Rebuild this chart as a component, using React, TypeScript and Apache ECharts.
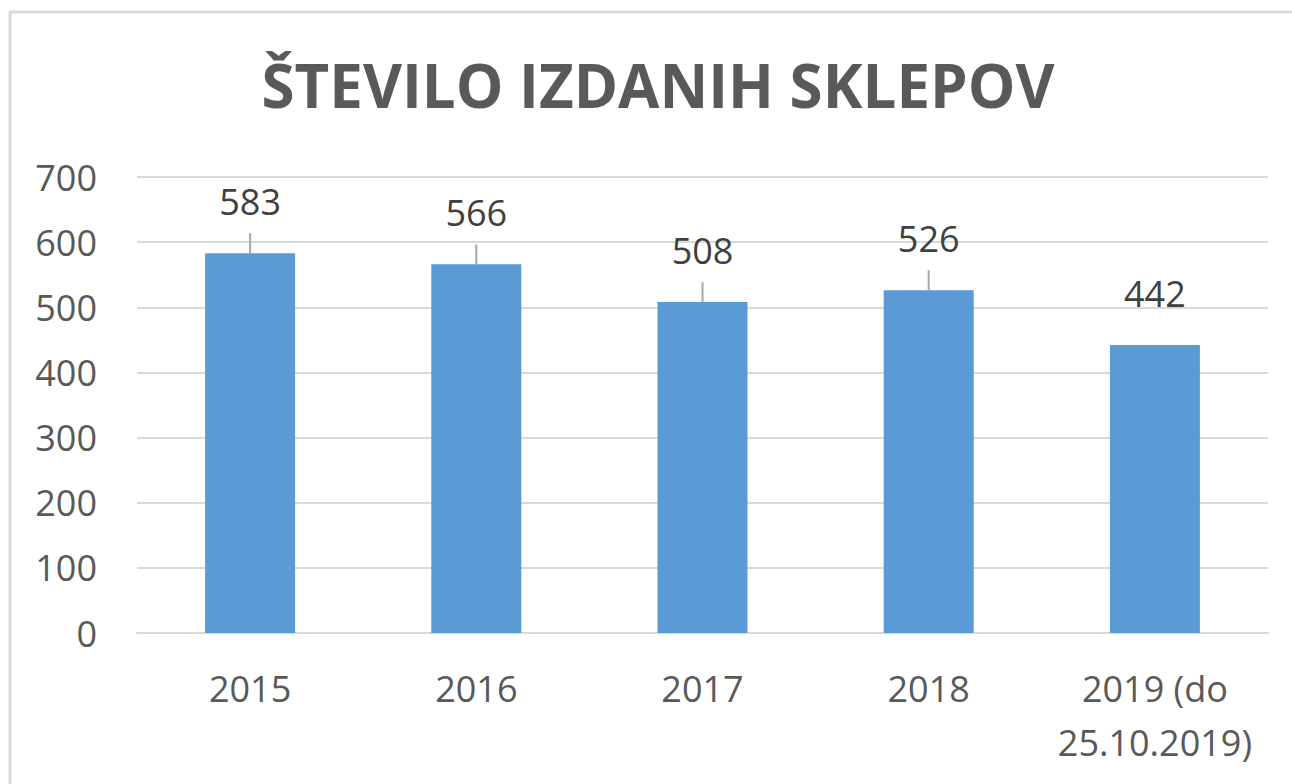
import React, { useEffect, useRef } from "react";
import * as echarts from "echarts";

const TITLE = "ŠTEVILO IZDANIH SKLEPOV";
const categories = ["2015", "2016", "2017", "2018", "2019 (do\n25.10.2019)"];
const values = [583, 566, 508, 526, 442];
const showLeader = [true, true, true, true, false];
const yTicks = { min: 0, max: 700, interval: 100 };

export default function App() {
  const ref = useRef<HTMLDivElement>(null);
  useEffect(() => {
    const chart = echarts.init(ref.current!, null, { renderer: "svg" });
    const font = "'Open Sans', sans-serif";
    chart.setOption({
      animation: false,
      backgroundColor: "#ffffff",
      graphic: [
        { type: "line", shape: { x1: 10, y1: 12, x2: 10, y2: 784 }, style: { stroke: "#d9d9d9", lineWidth: 3 } },
        { type: "line", shape: { x1: 9, y1: 12, x2: 1292, y2: 12 }, style: { stroke: "#d9d9d9", lineWidth: 3 } },
        {
          type: "text",
          x: 658,
          y: 85,
          style: {
            text: TITLE,
            font: `bold 60px ${font}`,
            fill: "#595959",
            textAlign: "center",
            textVerticalAlign: "middle",
          },
        },
      ],
      grid: { left: 137, right: 24, top: 177, bottom: 151 },
      xAxis: {
        type: "category",
        data: categories,
        axisLine: { lineStyle: { color: "#d9d9d9", width: 2 } },
        axisTick: { show: false },
        axisLabel: {
          color: "#595959",
          fontFamily: font,
          fontSize: 36,
          lineHeight: 54,
          margin: 28,
          interval: 0,
        },
      },
      yAxis: {
        type: "value",
        min: yTicks.min,
        max: yTicks.max,
        interval: yTicks.interval,
        axisLine: { show: false },
        axisTick: { show: false },
        splitLine: { lineStyle: { color: "#d9d9d9", width: 2 } },
        axisLabel: {
          color: "#595959",
          fontFamily: font,
          fontSize: 36,
          margin: 40,
        },
      },
      series: [
        {
          type: "bar",
          barWidth: 90,
          itemStyle: { color: "#5b9bd5" },
          data: values.map((v, i) => ({
            value: v,
            labelLine: { show: showLeader[i] },
          })),
          label: {
            show: true,
            position: "top",
            distance: 0,
            color: "#404040",
            fontFamily: font,
            fontSize: 36,
            lineHeight: 36,
            padding: [0, 0, 14, 0],
          },
          labelLayout: { dy: -20 },
          labelLine: {
            show: true,
            lineStyle: { color: "#a6a6a6", width: 2 },
          },
        },
      ],
    });
    return () => chart.dispose();
  }, []);
  return (
    <div
      ref={ref}
      style={{ position: "absolute", left: 0, top: 0, width: 1292, height: 784 }}
    />
  );
}
